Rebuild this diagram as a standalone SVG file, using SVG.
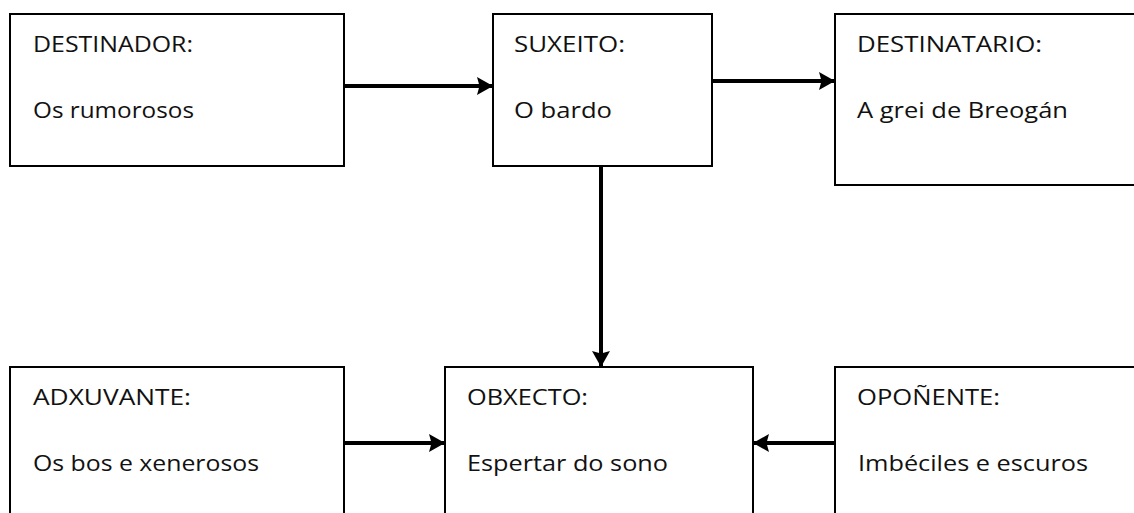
<svg xmlns="http://www.w3.org/2000/svg" width="1134" height="513" viewBox="0 0 1134 513">
<style>
.box{fill:#fff;stroke:#000;stroke-width:2}
.t{font-family:"Open Sans","Liberation Sans",sans-serif;font-size:21px;fill:#111}
.c{stroke:#000;stroke-width:4;fill:none}
</style>
<defs>
<marker id="ah" markerUnits="userSpaceOnUse" markerWidth="22" markerHeight="22" viewBox="0 -11 18 22" refX="16" refY="0" orient="auto">
<path d="M0,-9 L16,0 L0,9 L2.5,0 Z" fill="#000"/>
</marker>
</defs>
<rect width="1134" height="513" fill="#fff"/>
<g id="destinador">
<rect class="box" x="10" y="14" width="334" height="152"/>
<text class="t" x="33" y="52" textLength="160" lengthAdjust="spacingAndGlyphs">DESTINADOR:</text>
<text class="t" x="33" y="118" textLength="161" lengthAdjust="spacingAndGlyphs">Os rumorosos</text>
</g>
<g id="suxeito">
<rect class="box" x="493" y="14" width="219" height="152"/>
<text class="t" x="514" y="52" textLength="111" lengthAdjust="spacingAndGlyphs">SUXEITO:</text>
<text class="t" x="514" y="118" textLength="98" lengthAdjust="spacingAndGlyphs">O bardo</text>
</g>
<g id="destinatario">
<rect class="box" x="835" y="14" width="320" height="171"/>
<text class="t" x="857" y="52" textLength="185" lengthAdjust="spacingAndGlyphs">DESTINATARIO:</text>
<text class="t" x="857" y="118" textLength="211" lengthAdjust="spacingAndGlyphs">A grei de Breogán</text>
</g>
<g id="adxuvante">
<rect class="box" x="10" y="367" width="334" height="170"/>
<text class="t" x="33" y="405" textLength="158" lengthAdjust="spacingAndGlyphs">ADXUVANTE:</text>
<text class="t" x="33" y="471" textLength="226" lengthAdjust="spacingAndGlyphs">Os bos e xenerosos</text>
</g>
<g id="obxecto">
<rect class="box" x="445" y="367" width="308" height="170"/>
<text class="t" x="467" y="405" textLength="121" lengthAdjust="spacingAndGlyphs">OBXECTO:</text>
<text class="t" x="467" y="471" textLength="201" lengthAdjust="spacingAndGlyphs">Espertar do sono</text>
</g>
<g id="oponente">
<rect class="box" x="835" y="367" width="320" height="170"/>
<text class="t" x="857" y="405" textLength="143" lengthAdjust="spacingAndGlyphs">OPOÑENTE:</text>
<text class="t" x="858" y="471" textLength="230" lengthAdjust="spacingAndGlyphs">Imbéciles e escuros</text>
</g>
<g id="connectors">
<line class="c" x1="343" y1="86" x2="493" y2="86" marker-end="url(#ah)"/>
<line class="c" x1="711" y1="81" x2="835" y2="81" marker-end="url(#ah)"/>
<line class="c" x1="601" y1="165" x2="601" y2="367" marker-end="url(#ah)"/>
<line class="c" x1="343" y1="443" x2="445" y2="443" marker-end="url(#ah)"/>
<line class="c" x1="835" y1="443" x2="753" y2="443" marker-end="url(#ah)"/>
</g>
</svg>
